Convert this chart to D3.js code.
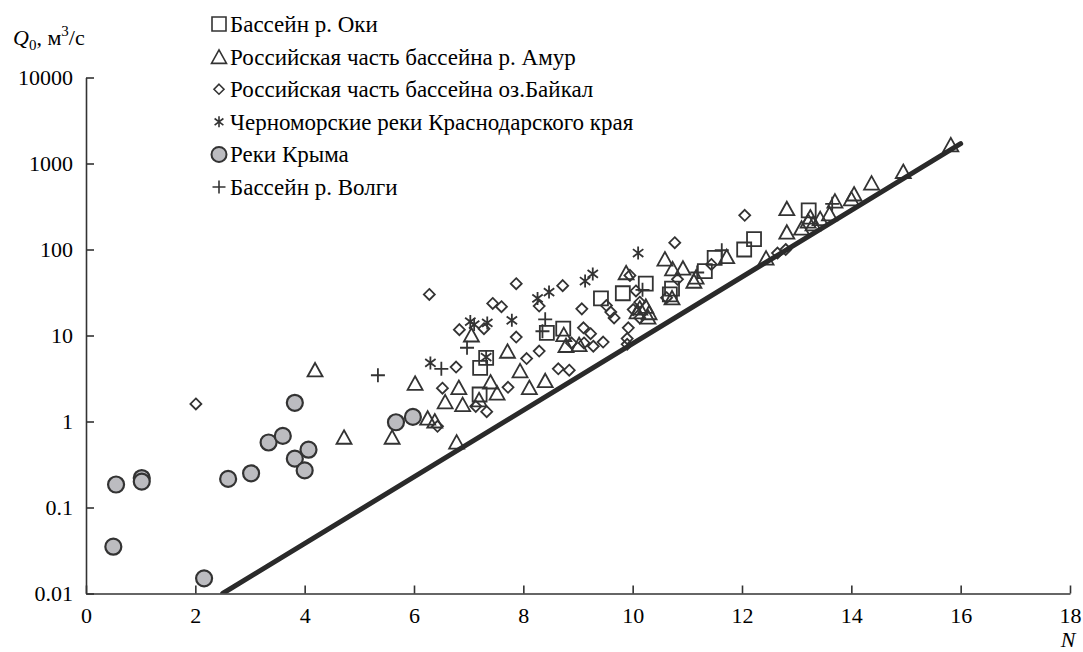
<!DOCTYPE html>
<html>
<head>
<meta charset="utf-8">
<script src="https://cdn.jsdelivr.net/npm/d3@7"></script>
<style>
  html, body { margin: 0; padding: 0; background: #fff; }
</style>
</head>
<body>
<svg id="chart" width="1083" height="652"></svg>
<script>
// ---- data: [N, Q0 (m3/s)] ----
const oka = [[7.21,4.2],[7.20,2.06],[7.32,5.5],[8.43,10.7],[8.73,12],[9.42,27],[9.82,31],[10.24,40],
  [10.72,35],[10.68,30],[11.32,56],[11.50,80],[12.04,100],[12.22,132],[13.22,285]];
const amur = [[4.19,4.0],[4.72,0.66],[5.60,0.66],[6.02,2.8],[6.25,1.1],[6.38,1.02],[6.57,1.7],[6.78,0.58],
  [6.82,2.5],[6.89,1.58],[7.05,10.2],[7.19,1.8],[7.40,2.9],[7.52,2.15],[7.71,6.6],[7.94,3.9],[8.11,2.5],
  [8.40,3.0],[8.74,10.3],[8.78,7.7],[9.02,7.9],[9.88,54],[10.08,19],[10.24,22],[10.30,18.5],[10.28,16.5],
  [10.13,21],[10.59,78],[10.73,60],[10.92,61],[10.72,27.5],[11.12,43],[11.16,48],[11.72,83],[12.44,80],
  [12.82,300],[12.82,160],[13.09,178],[13.21,215],[13.25,240],[13.30,200],[13.43,230],[13.60,262],
  [13.70,368],[14.0,390],[14.05,445],[14.37,595],[14.95,813],[15.82,1660]];
const baikal = [[2.01,1.6],[6.28,30],[6.43,0.88],[6.52,2.44],[6.77,4.3],[6.83,11.7],[7.13,1.5],[7.33,1.3],
  [7.28,12],[7.44,23.6],[7.60,21.6],[7.72,2.5],[7.87,40],[7.87,9.6],[8.06,5.4],[8.29,22],[8.29,6.6],
  [8.64,4.1],[8.84,3.95],[8.72,38],[8.88,8.2],[9.07,20.4],[9.10,12.3],[9.23,10.5],[9.11,8.2],[9.28,7.5],
  [9.46,8.4],[9.52,22.3],[9.60,18.7],[9.66,16],[9.90,7.9],[9.92,12.3],[9.90,9.2],[9.95,50],[10.01,20],
  [10.06,33],[10.13,24.4],[10.13,16],[10.62,27.5],[10.77,120],[10.82,45],[11.44,67],[12.05,250],
  [12.65,91],[12.80,100]];
const blackSea = [[6.30,4.8],[7.03,14.5],[7.10,13.4],[7.34,14],[7.79,15],[8.26,27],[8.47,32],[9.13,43],
  [9.27,52],[10.10,91],[7.32,5.6]];
const crimea = [[0.50,0.035],[0.55,0.185],[1.02,0.22],[1.02,0.20],[2.16,0.015],[2.60,0.215],[3.02,0.25],
  [3.34,0.57],[3.60,0.68],[3.82,1.65],[3.82,0.37],[4.07,0.47],[4.00,0.27],[5.67,0.98],[5.98,1.13]];
const volga = [[5.34,3.45],[6.5,4.1],[6.97,7.2],[8.40,15.4],[8.35,11.2],[10.18,34],[11.18,54],[11.63,98],[13.65,340]];
const trendLine = [[2.5,0.01],[16,1700]];

const xTicks = [0,2,4,6,8,10,12,14,16,18];
const yTicks = [0.01,0.1,1,10,100,1000,10000];
const yTickLabels = ["0.01","0.1","1","10","100","1000","10000"];
const legendLabels = ["Бассейн р. Оки","Российская часть бассейна р. Амур","Российская часть бассейна оз.Байкал",
  "Черноморские реки Краснодарского края","Реки Крыма","Бассейн р. Волги"];

// ---- custom symbol types (size = full width in px) ----
const symSquare = { draw(c, s) { const h = s/2; c.moveTo(-h,-h); c.lineTo(h,-h); c.lineTo(h,h); c.lineTo(-h,h); c.closePath(); } };
const symTriangle = { draw(c, s) { const h = s/2, t = s*0.9; c.moveTo(0,-t/2); c.lineTo(h,t/2); c.lineTo(-h,t/2); c.closePath(); } };
const symDiamond = { draw(c, s) { const h = s/2; c.moveTo(0,-h); c.lineTo(h,0); c.lineTo(0,h); c.lineTo(-h,0); c.closePath(); } };
const symCircle = { draw(c, s) { const r = s/2; c.moveTo(r,0); c.arc(0,0,r,0,2*Math.PI); } };
const symAsterisk = { draw(c, s) { const r = s/2; const a = r*0.8, b = r*0.6;
  c.moveTo(0,-r); c.lineTo(0,r); c.moveTo(-a,-b); c.lineTo(a,b); c.moveTo(-a,b); c.lineTo(a,-b); } };
const symPlus = { draw(c, s) { const r = s/2; c.moveTo(-r,0); c.lineTo(r,0); c.moveTo(0,-r); c.lineTo(0,r); } };

const series = [
  { data: oka,      type: symSquare,   size: 14,  legendSize: 14, fill: "none" },
  { data: amur,     type: symTriangle, size: 15,  legendSize: 15, fill: "none" },
  { data: baikal,   type: symDiamond,  size: 11,  legendSize: 10, fill: "none" },
  { data: blackSea, type: symAsterisk, size: 13,  legendSize: 11, fill: "none" },
  { data: crimea,   type: symCircle,   size: 16,  legendSize: 15, fill: "#bcbcc0" },
  { data: volga,    type: symPlus,     size: 14,  legendSize: 13, fill: "none" }
];

const svg = d3.select("#chart");
const x = d3.scaleLinear().domain([0,18]).range([86,1070]);
const y = d3.scaleLog().domain([0.01,10000]).range([593.5,77.5]);

function serif(sel, px) {
  return sel.style("font-family", '"Times New Roman"').style("font-size", px + "px");
}

// legend texts first (same code path as a plain text test)
const lg = svg.append("g");
legendLabels.forEach((lab, i) => {
  const cy = 24 + i * 32.6;
  serif(lg.append("text").attr("x", 230).attr("y", cy + 8), 23).text(lab);
});

svg.append("clipPath").attr("id","plotclip").append("rect")
  .attr("x", x(0)).attr("y", y(10000)).attr("width", x(18)-x(0)).attr("height", y(0.01)-y(10000));

// points
series.forEach((s, i) => {
  const gen = d3.symbol().type(s.type).size(s.size);
  svg.append("g").selectAll("path").data(s.data).join("path")
    .attr("transform", d => `translate(${x(d[0])},${y(d[1])})`)
    .attr("d", gen)
    .attr("fill", s.fill)
    .attr("stroke", "#333")
    .attr("stroke-width", i === 4 ? 2.2 : 1.8);
  lg.append("path").attr("transform", `translate(219,${24 + i * 32.6})`)
    .attr("d", d3.symbol().type(s.type).size(s.legendSize))
    .attr("fill", s.fill).attr("stroke","#333").attr("stroke-width", i === 4 ? 2 : 1.6);
});

// trend line
svg.append("path").datum(trendLine)
  .attr("clip-path","url(#plotclip)")
  .attr("d", d3.line().x(d => x(d[0])).y(d => y(d[1])))
  .attr("fill","none").attr("stroke","#2a2a2a").attr("stroke-width",5).attr("stroke-linecap","round");

// axes
const xAxis = d3.axisBottom(x).tickValues(xTicks).tickFormat(d3.format("d"))
  .tickSizeInner(-8).tickSizeOuter(0).tickPadding(14);
const gx = svg.append("g").attr("transform", `translate(0,${y(0.01)})`).call(xAxis);
const yAxis = d3.axisLeft(y).tickValues(yTicks).tickFormat((d,i) => yTickLabels[i])
  .tickSizeInner(-8).tickSizeOuter(0).tickPadding(13);
const gy = svg.append("g").attr("transform", `translate(${x(0)},0)`).call(yAxis);
[gx, gy].forEach(g => {
  g.attr("font-family", null).attr("font-size", null);
  g.select(".domain").attr("stroke","#333").attr("stroke-width",1.6);
  g.selectAll(".tick line").attr("stroke","#333").attr("stroke-width",1.6);
  serif(g.selectAll(".tick text"), 22);
});

// axis titles
const yt = serif(svg.append("text").attr("x", 13).attr("y", 45), 22);
yt.append("tspan").style("font-style","italic").text("Q");
yt.append("tspan").style("font-size","15px").attr("dy",5).text("0");
yt.append("tspan").attr("dy",-5).text(", м");
yt.append("tspan").style("font-size","15px").attr("dy",-9).text("3");
yt.append("tspan").attr("dy",9).text("/с");

serif(svg.append("text").attr("x", 1068).attr("y", 647).attr("text-anchor","middle"), 22)
  .style("font-style","italic").text("N");
</script>
</body>
</html>
